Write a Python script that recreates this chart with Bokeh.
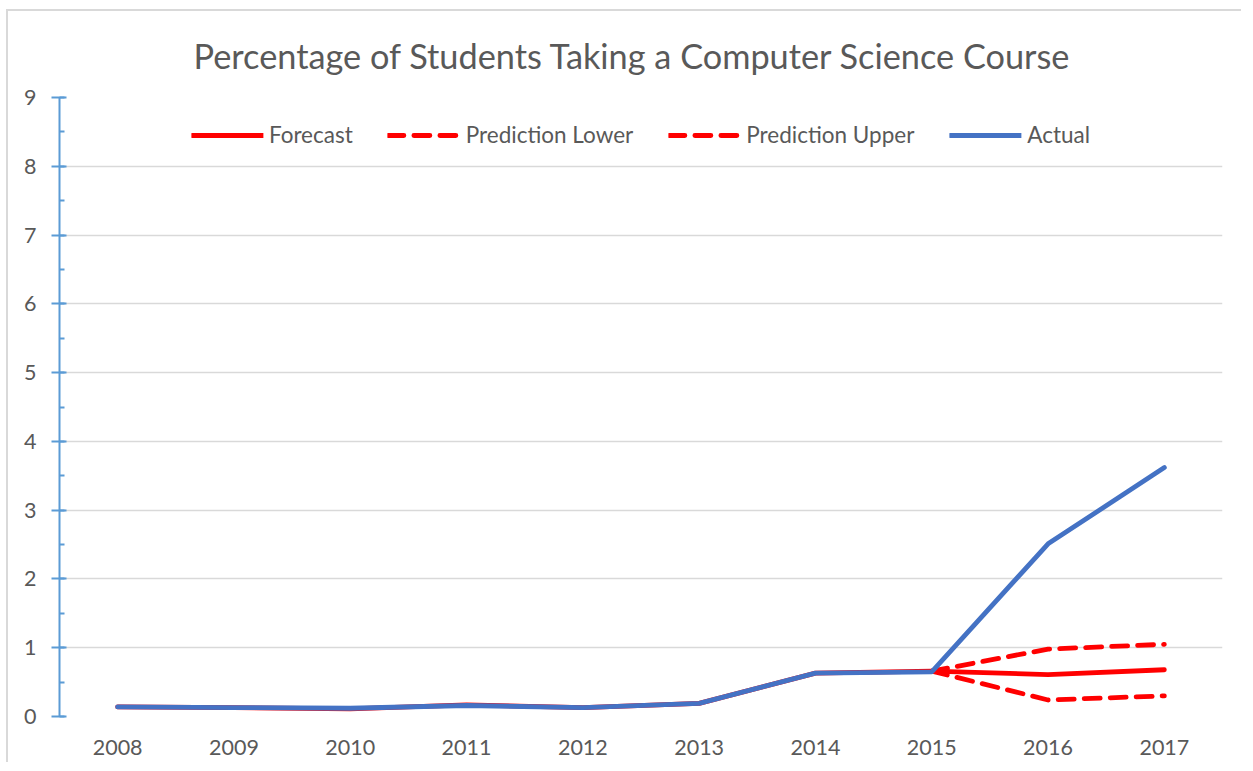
from bokeh.plotting import figure
from bokeh.models import FactorRange, Range1d, SingleIntervalTicker, Legend, LegendItem
from bokeh.embed import file_html
from bokeh.resources import INLINE

years = ["2008", "2009", "2010", "2011", "2012", "2013", "2014", "2015", "2016", "2017"]
actual = [0.14, 0.13, 0.12, 0.16, 0.13, 0.19, 0.63, 0.65, 2.51, 3.62]
forecast = [0.14, 0.13, 0.11, 0.17, 0.13, 0.19, 0.63, 0.66, 0.61, 0.68]
band_years = ["2015", "2016", "2017"]
pred_lower = [0.66, 0.24, 0.30]
pred_upper = [0.66, 0.98, 1.05]

TEXT = "#595959"
FONT = "Lato"

p = figure(x_range=FactorRange(factors=years), y_range=Range1d(0, 9),
           width=1235, height=753, output_backend="svg", toolbar_location=None,
           min_border_left=51, min_border_right=21, min_border_top=86, min_border_bottom=48,
           title="Percentage of Students Taking a Computer Science Course")
p.styles = {"border-top": "2px solid #D9D9D9", "border-left": "2px solid #D9D9D9",
            "margin-left": "6px", "margin-top": "9px"}
p.outline_line_color = None
p.background_fill_color = "white"
p.border_fill_color = "white"

p.title.align = "left"
p.title.text_font = FONT
p.title.text_font_size = "34.3px"
p.title.text_font_style = "normal"
p.title.text_color = TEXT
p.title.offset = 134
p.title.standoff = 43

p.xgrid.grid_line_color = None
p.ygrid.grid_line_color = "#D9D9D9"
p.ygrid.grid_line_width = 1.5

p.yaxis.ticker = SingleIntervalTicker(interval=1, num_minor_ticks=2)
p.yaxis.axis_line_color = "#5B9BD5"
p.yaxis.axis_line_width = 2
p.yaxis.major_tick_line_color = "#5B9BD5"
p.yaxis.major_tick_line_width = 2
p.yaxis.major_tick_out = 8
p.yaxis.major_tick_in = 7
p.yaxis.minor_tick_line_color = "#5B9BD5"
p.yaxis.minor_tick_line_width = 2
p.yaxis.minor_tick_in = 5
p.yaxis.minor_tick_out = 0
p.yaxis.major_label_standoff = 15
p.yaxis.major_label_text_font = FONT
p.yaxis.major_label_text_font_size = "21.5px"
p.yaxis.major_label_text_color = TEXT

p.xaxis.axis_line_color = None
p.xaxis.major_tick_line_color = None
p.xaxis.minor_tick_line_color = None
p.xaxis.major_label_standoff = 17
p.xaxis.major_label_text_font = FONT
p.xaxis.major_label_text_font_size = "21.5px"
p.xaxis.major_label_text_color = TEXT

RED = "#FF0000"
BLUE = "#4472C4"
LW = 4.8

r_fc = p.line(years, forecast, line_color=RED, line_width=LW, line_join="round", line_cap="round")
r_lo = p.line(band_years, pred_lower, line_color=RED, line_width=LW, line_dash="16 10",
              line_join="round", line_cap="round")
r_up = p.line(band_years, pred_upper, line_color=RED, line_width=LW, line_dash="16 10",
              line_join="round", line_cap="round")
r_ac = p.line(years, actual, line_color=BLUE, line_width=LW, line_join="round", line_cap="round")

legend = Legend(items=[LegendItem(label="Forecast", renderers=[r_fc]),
                       LegendItem(label="Prediction Lower", renderers=[r_lo]),
                       LegendItem(label="Prediction Upper", renderers=[r_up]),
                       LegendItem(label="Actual", renderers=[r_ac])],
                orientation="horizontal", location="top_center",
                glyph_width=72, glyph_height=20, label_standoff=6, spacing=35,
                padding=0, margin=24, background_fill_alpha=0, border_line_alpha=0,
                label_text_font=FONT, label_text_font_size="22.5px", label_text_color=TEXT)
p.add_layout(legend)

open("out.html", "w").write(file_html(p, INLINE))
